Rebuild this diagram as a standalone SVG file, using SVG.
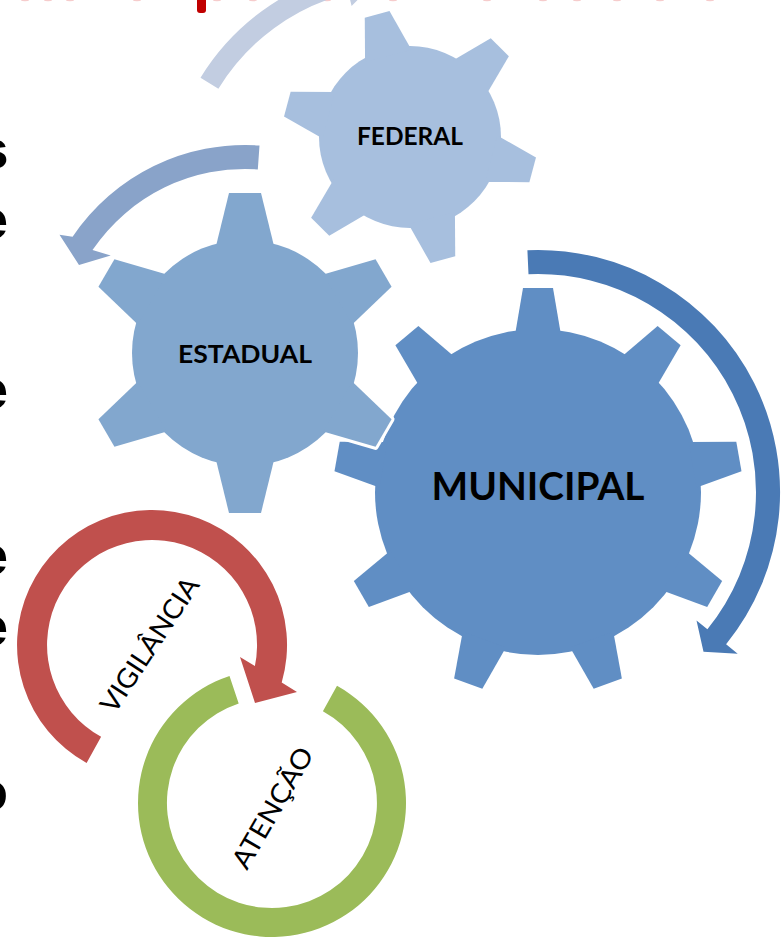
<svg xmlns="http://www.w3.org/2000/svg" xmlns:xlink="http://www.w3.org/1999/xlink" width="782" height="938" viewBox="0 0 782 938">
  <style>
    .lbl { font-family: Lato, "Liberation Sans", Arial, sans-serif; font-weight: bold; fill: #000; text-anchor: middle; }
    .cyc { font-family: Lato, "Liberation Sans", Arial, sans-serif; fill: #000; text-anchor: middle; }
    .edge { font-family: "Liberation Sans", Arial, sans-serif; font-weight: bold; fill: #000; font-size: 54px; }
    .halo { fill: #fff; stroke: #fff; stroke-width: 6; stroke-linejoin: round; }
  </style>
  <defs>
    <!-- single teeth, pointing up from the gear centre -->
    <polygon id="tooth-fed" points="-24,-84 -12.8,-127 12.8,-127 24,-84"/>
    <polygon id="tooth-est" points="-29,-107 -16,-160 16,-160 29,-107"/>
    <polygon id="tooth-mun" points="-23,-157 -15,-204 15,-204 23,-157"/>
    <!-- whole gear outlines (fill inherited from the <use>) -->
    <g id="shape-fed">
      <circle r="91"/>
      <use xlink:href="#tooth-fed" transform="rotate(-15)"/>
      <use xlink:href="#tooth-fed" transform="rotate(45)"/>
      <use xlink:href="#tooth-fed" transform="rotate(105)"/>
      <use xlink:href="#tooth-fed" transform="rotate(165)"/>
      <use xlink:href="#tooth-fed" transform="rotate(225)"/>
      <use xlink:href="#tooth-fed" transform="rotate(285)"/>
    </g>
    <g id="shape-est">
      <circle r="113"/>
      <use xlink:href="#tooth-est"/>
      <use xlink:href="#tooth-est" transform="rotate(60)"/>
      <use xlink:href="#tooth-est" transform="rotate(120)"/>
      <use xlink:href="#tooth-est" transform="rotate(180)"/>
      <use xlink:href="#tooth-est" transform="rotate(240)"/>
      <use xlink:href="#tooth-est" transform="rotate(300)"/>
    </g>
    <g id="shape-mun">
      <circle r="163"/>
      <use xlink:href="#tooth-mun"/>
      <use xlink:href="#tooth-mun" transform="rotate(40)"/>
      <use xlink:href="#tooth-mun" transform="rotate(80)"/>
      <use xlink:href="#tooth-mun" transform="rotate(120)"/>
      <use xlink:href="#tooth-mun" transform="rotate(160)"/>
      <use xlink:href="#tooth-mun" transform="rotate(200)"/>
      <use xlink:href="#tooth-mun" transform="rotate(240)"/>
      <use xlink:href="#tooth-mun" transform="rotate(280)"/>
      <use xlink:href="#tooth-mun" transform="rotate(320)"/>
    </g>
  </defs>

  <rect width="782" height="938" fill="#fff"/>

  <!-- clipped slide text along the top and left edges -->
  <g id="edge-text">
    <rect x="197" y="-4" width="9" height="17" rx="3" fill="#c00000"/>
    <g fill="#f6cccc">
      <ellipse cx="25" cy="0" rx="4" ry="1.2"/>
      <ellipse cx="48" cy="0" rx="4" ry="1.2"/>
      <ellipse cx="70" cy="0" rx="4" ry="1.2"/>
      <ellipse cx="137" cy="0" rx="4" ry="1.2"/>
      <ellipse cx="217" cy="0" rx="4" ry="1.2"/>
      <ellipse cx="253" cy="0" rx="4" ry="1.2"/>
      <ellipse cx="290" cy="0" rx="4" ry="1.2"/>
      <ellipse cx="327" cy="0" rx="4" ry="1.2"/>
      <ellipse cx="393" cy="0" rx="4" ry="1.2"/>
      <ellipse cx="487" cy="0" rx="4" ry="1.2"/>
      <ellipse cx="543" cy="0" rx="4" ry="1.2"/>
      <ellipse cx="577" cy="0" rx="4" ry="1.2"/>
      <ellipse cx="617" cy="0" rx="4" ry="1.2"/>
      <ellipse cx="660" cy="0" rx="4" ry="1.2"/>
      <ellipse cx="710" cy="0" rx="4" ry="1.2"/>
    </g>
    <text class="edge" x="-21.5" y="168">s</text>
    <text class="edge" x="-22" y="238">e</text>
    <text class="edge" x="-22" y="408">e</text>
    <text class="edge" x="-22" y="574">e</text>
    <text class="edge" x="-22" y="645">e</text>
    <text class="edge" x="-25" y="810">o</text>
  </g>

  <!-- circular arrows around the gears -->
  <g id="connectors">
    <path id="arrow-federal" fill="#c2cde1" d="M 218.4,88.7 A 213 213 0 0 1 348.5,-6.7 L 351.6,5.9 L 380.5,-22.7 L 340,-40.6 L 343.4,-27.1 A 234 234 0 0 0 200.5,77.7 Z"/>
    <path id="arrow-estadual" fill="#89a3c9" d="M 259.5,145.5 A 208 208 0 0 0 72.6,236.7 L 59.5,234.8 L 79,265 L 110.7,255.4 L 92.5,250.1 A 184 184 0 0 1 257.8,169.4 Z"/>
    <path id="arrow-municipal" fill="#4a7ab5" d="M 527.4,250.2 A 242 242 0 0 1 726.1,644.3 L 737.7,653.7 L 703.5,651.8 L 696.5,620.4 L 707.4,629.2 A 218 218 0 0 0 528.5,274.2 Z"/>
  </g>

  <g id="gear-federal" transform="translate(410,137)">
    <use xlink:href="#shape-fed" class="halo"/>
    <use xlink:href="#shape-fed" fill="#a7bfde"/>
    <text class="lbl" x="0" y="8" font-size="25" textLength="106" lengthAdjust="spacingAndGlyphs">FEDERAL</text>
  </g>

  <g id="gear-municipal" transform="translate(538,492)">
    <use xlink:href="#shape-mun" class="halo"/>
    <use xlink:href="#shape-mun" fill="#608ec4"/>
    <text class="lbl" x="0" y="8" font-size="38" textLength="213" lengthAdjust="spacingAndGlyphs">MUNICIPAL</text>
  </g>

  <g id="gear-estadual" transform="translate(245,353)">
    <use xlink:href="#shape-est" class="halo"/>
    <use xlink:href="#shape-est" fill="#82a7ce"/>
    <text class="lbl" x="0" y="10" font-size="25" textLength="134" lengthAdjust="spacingAndGlyphs">ESTADUAL</text>
  </g>

  <!-- surveillance / care cycle -->
  <g id="cycle-atencao">
    <path fill="#9bbb59" d="M 337,685.8 A 134 134 0 1 1 229.5,675.9 L 238.7,703.4 A 105 105 0 1 0 322.9,711.2 Z"/>
    <text class="cyc" transform="translate(273,808) rotate(-60)" font-size="27" dy="9" textLength="135" lengthAdjust="spacingAndGlyphs">ATENÇÃO</text>
  </g>

  <g id="cycle-vigilancia">
    <path fill="#c0504d" d="M 86.6,763.1 A 135 135 0 1 1 281.7,682.6 L 297,692 L 255,703 L 240,657 L 254.9,666.1 A 105 105 0 1 0 101.1,736.8 Z"/>
    <text class="cyc" transform="translate(150,645) rotate(-56.5)" font-size="27" dy="9" textLength="156" lengthAdjust="spacingAndGlyphs">VIGILÂNCIA</text>
  </g>
</svg>
